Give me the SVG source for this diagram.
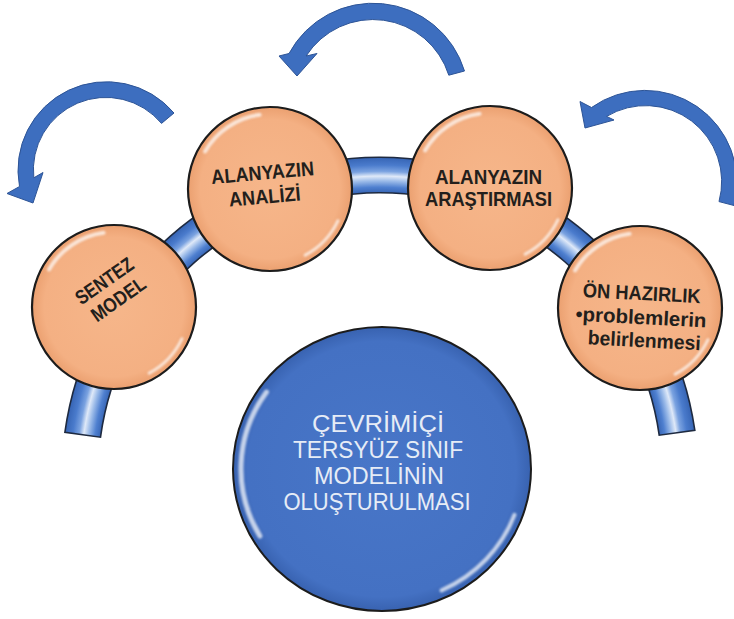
<svg xmlns="http://www.w3.org/2000/svg" width="734" height="619" viewBox="0 0 734 619">
<defs>
<style>
.band{fill:url(#bandGrad);stroke:#1e2a40;stroke-width:1.6}
.arrow{fill:#3d6ebf;stroke:#2d5496;stroke-width:1}
.orb{fill:url(#orangeGrad);stroke:#1c1c1c;stroke-width:2.2}
.core{fill:url(#blueGrad);stroke:#1c1c1c;stroke-width:2}
.hl{fill:none;stroke:#ffffff;stroke-linecap:round;opacity:.7;filter:url(#soft)}
.lbl{font-family:"Liberation Sans",Arial,sans-serif;font-weight:bold;font-size:20px;fill:#231f1c;text-anchor:middle}
.ctr{font-family:"Liberation Sans",Arial,sans-serif;font-size:23px;fill:#e6ecf6;text-anchor:middle}
</style>
<radialGradient id="bandGrad" gradientUnits="userSpaceOnUse" cx="380" cy="475" r="318">
<stop offset="0" stop-color="#3563b3"/>
<stop offset="0.886" stop-color="#3563b3"/>
<stop offset="0.905" stop-color="#4f80d0"/>
<stop offset="0.925" stop-color="#9dbce9"/>
<stop offset="0.94" stop-color="#dfe9f8"/>
<stop offset="0.955" stop-color="#7aa2e0"/>
<stop offset="0.975" stop-color="#4a7bcc"/>
<stop offset="1" stop-color="#3563b3"/>
</radialGradient>
<radialGradient id="orangeGrad" cx="0.5" cy="0.5" r="0.5">
<stop offset="0" stop-color="#F6B68A"/>
<stop offset="0.85" stop-color="#F4B083"/>
<stop offset="1" stop-color="#EBA070"/>
</radialGradient>
<radialGradient id="blueGrad" cx="0.5" cy="0.5" r="0.5">
<stop offset="0" stop-color="#4876C8"/>
<stop offset="0.9" stop-color="#4471C3"/>
<stop offset="1" stop-color="#3862B0"/>
</radialGradient>
<filter id="soft" x="-20%" y="-20%" width="140%" height="140%"><feGaussianBlur stdDeviation="1.2"/></filter>
</defs>
<rect width="734" height="619" fill="#ffffff"/>

<g id="connectors">
<path class="band" d="M 64.9 432.4 A 318 318 0 0 1 694.8 430.2 L 659.2 435.2 A 282 282 0 0 0 100.5 437.2 Z"/>
<path class="arrow" d="M 174 113 A 88.5 88.5 0 0 0 19.5 186.5 L 7 193.5 L 33 203 L 43 172.5 L 33.8 177.8 A 72.5 72.5 0 0 1 161.5 123.4 Z"/>
<path class="arrow" d="M 464.5 71 A 95.5 95.5 0 0 0 289 53.5 L 279 56 L 297 76 L 317 53.5 L 306.1 56 A 79.5 79.5 0 0 1 448.8 75.2 Z"/>
<path class="arrow" d="M 734 205.5 A 92 92 0 0 0 591.5 107.5 L 580 101.5 L 585 128 L 614 120 L 606.6 116.4 A 76 76 0 0 1 719 201.6 Z"/>
</g>

<g id="node-sentez" transform="translate(114,307)">
<circle class="orb" r="82"/>
<path class="hl" stroke-width="4" d="M -64.95 -37.5 A 75 75 0 0 1 -10.4 -74.3"/>
<path class="hl" stroke-width="3" d="M 68 31.7 A 75 75 0 0 1 35.2 66.2"/>
<g transform="rotate(-35)">
<text class="lbl" x="7" y="-20" textLength="66" lengthAdjust="spacingAndGlyphs">SENTEZ</text>
<text class="lbl" x="8" y="3" textLength="62" lengthAdjust="spacingAndGlyphs">MODEL</text>
</g>
</g>

<g id="node-analizi" transform="translate(270,189)">
<circle class="orb" r="82"/>
<path class="hl" stroke-width="4" d="M -64.95 -37.5 A 75 75 0 0 1 -10.4 -74.3"/>
<path class="hl" stroke-width="3" d="M 68 31.7 A 75 75 0 0 1 35.2 66.2"/>
<g transform="rotate(-5)">
<text class="lbl" x="-6" y="-10" textLength="103" lengthAdjust="spacingAndGlyphs">ALANYAZIN</text>
<text class="lbl" x="-6" y="14" textLength="72" lengthAdjust="spacingAndGlyphs">ANALİZİ</text>
</g>
</g>

<g id="node-arastirmasi" transform="translate(490,188)">
<circle class="orb" r="82"/>
<path class="hl" stroke-width="4" d="M -64.95 -37.5 A 75 75 0 0 1 -10.4 -74.3"/>
<path class="hl" stroke-width="3" d="M 68 31.7 A 75 75 0 0 1 35.2 66.2"/>
<text class="lbl" x="-1.5" y="-4" textLength="107" lengthAdjust="spacingAndGlyphs">ALANYAZIN</text>
<text class="lbl" x="-1.5" y="18" textLength="127" lengthAdjust="spacingAndGlyphs">ARAŞTIRMASI</text>
</g>

<g id="node-on-hazirlik" transform="translate(640,308)">
<circle class="orb" r="82"/>
<path class="hl" stroke-width="4" d="M -64.95 -37.5 A 75 75 0 0 1 -10.4 -74.3"/>
<path class="hl" stroke-width="3" d="M 68 31.7 A 75 75 0 0 1 35.2 66.2"/>
<g transform="rotate(3)">
<text class="lbl" x="1" y="-8" textLength="118" lengthAdjust="spacingAndGlyphs">ÖN HAZIRLIK</text>
<text class="lbl" x="-64" y="16" style="text-anchor:start">•</text>
<text class="lbl" x="5" y="16" textLength="124" lengthAdjust="spacingAndGlyphs">problemlerin</text>
<text class="lbl" x="6" y="39" textLength="113" lengthAdjust="spacingAndGlyphs">belirlenmesi</text>
</g>
</g>

<g id="node-center" transform="translate(382,469)">
<ellipse class="core" rx="149" ry="142"/>
<path class="hl" stroke-width="5" d="M -115.5 -76.9 A 141 134 0 0 0 -122.1 67"/>
<path class="hl" stroke-width="4" d="M 132.5 45.8 A 141 134 0 0 1 59.6 121.4"/>
<text class="ctr" x="-4" y="-37" textLength="132" lengthAdjust="spacingAndGlyphs">ÇEVRİMİÇİ</text>
<text class="ctr" x="-4" y="-11" textLength="170" lengthAdjust="spacingAndGlyphs">TERSYÜZ SINIF</text>
<text class="ctr" x="-3" y="15" textLength="130" lengthAdjust="spacingAndGlyphs">MODELİNİN</text>
<text class="ctr" x="-5" y="41" textLength="187" lengthAdjust="spacingAndGlyphs">OLUŞTURULMASI</text>
</g>
</svg>
